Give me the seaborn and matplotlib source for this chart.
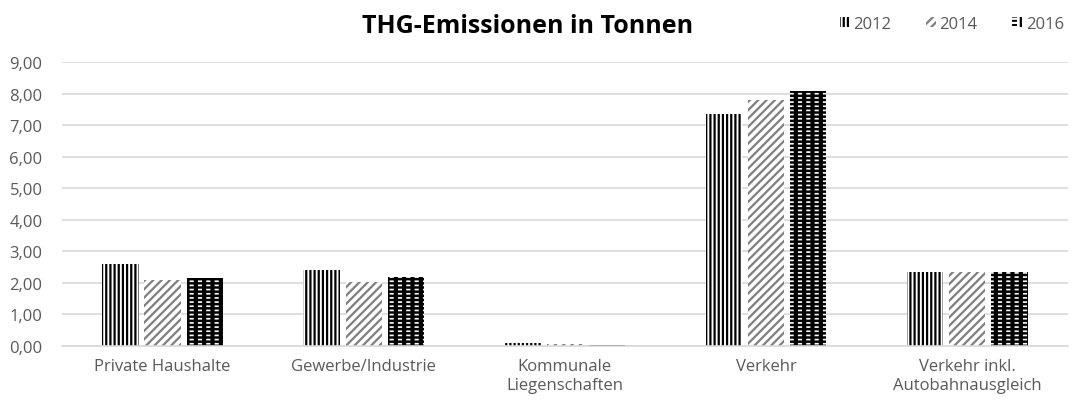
import matplotlib
matplotlib.use("Agg")
import matplotlib.pyplot as plt
import matplotlib.patches as mpatches
from matplotlib.legend_handler import HandlerTuple
import seaborn as sns
import pandas as pd

categories = ["Private Haushalte", "Gewerbe/Industrie", "Kommunale\nLiegenschaften",
              "Verkehr", "Verkehr inkl.\nAutobahnausgleich"]
years = ["2012", "2014", "2016"]
v2012 = [2.60, 2.40, 0.08, 7.34, 2.36]
v2014 = [2.09, 2.03, 0.06, 7.79, 2.36]
v2016 = [2.15, 2.20, 0.04, 8.07, 2.36]
yticks = [0, 1, 2, 3, 4, 5, 6, 7, 8, 9]

df = pd.DataFrame({
    "Kategorie": categories * 3,
    "Jahr": [y for y in years for _ in categories],
    "Wert": v2012 + v2014 + v2016,
})

sns.set_style("white")
plt.rcParams["font.family"] = ["Open Sans", "DejaVu Sans"]
plt.rcParams["hatch.linewidth"] = 1.6

styles = {
    "2012": dict(face="white", hatch_col="black", hatch="||||", lw=1.6),
    "2014": dict(face="white", hatch_col="#7f7f7f", hatch="////", lw=1.6),
    "2016": dict(face="black", hatch_col="white", hatch="----", lw=1.2),
}
overlay = dict(hatch="||", lw=3.0)  # black verticals cut the white lines into dashes


def set_hlw(p, lw):
    if hasattr(p, "set_hatch_linewidth"):
        p.set_hatch_linewidth(lw)


fig = plt.figure(figsize=(10.79, 4.02), dpi=100)
ax = fig.add_axes([0.0575, 0.137, 0.932, 0.706])

sns.barplot(data=df, x="Kategorie", y="Wert", hue="Jahr", hue_order=years,
            width=0.63, gap=0.14, ax=ax, legend=False, palette=["white"] * 3)

for cont, yr in zip(ax.containers, years):
    s = styles[yr]
    for bar in cont:
        bar.set_facecolor(s["face"])
        bar.set_edgecolor(s["hatch_col"])
        bar.set_hatch(s["hatch"])
        bar.set_linewidth(0)
        set_hlw(bar, s["lw"])
        if yr == "2016":
            r = mpatches.Rectangle(bar.get_xy(), bar.get_width(), bar.get_height(),
                                   facecolor="none", edgecolor="black", hatch=overlay["hatch"],
                                   linewidth=0, zorder=bar.get_zorder() + 0.1)
            set_hlw(r, overlay["lw"])
            ax.add_patch(r)

ax.set_ylim(0, 9)
ax.set_yticks(yticks)
ax.set_yticklabels([f"{t:.2f}".replace(".", ",") for t in yticks])
ax.yaxis.grid(True, color="#d9d9d9", linewidth=1.2)
ax.set_axisbelow(True)
for sp in ["top", "right", "left"]:
    ax.spines[sp].set_visible(False)
ax.spines["bottom"].set_color("#d9d9d9")
ax.spines["bottom"].set_linewidth(1.2)
ax.tick_params(axis="both", length=0, labelsize=12, colors="#595959")
ax.tick_params(axis="y", pad=14)
ax.tick_params(axis="x", pad=9)
ax.set_xlabel("")
ax.set_ylabel("")

fig.text(0.489, 0.935, "THG-Emissionen in Tonnen", ha="center", va="center",
         fontsize=18, fontweight="bold", color="black")

handles = []
for yr in years:
    s = styles[yr]
    p = mpatches.Patch(facecolor=s["face"], edgecolor=s["hatch_col"],
                       hatch=s["hatch"], linewidth=0)
    set_hlw(p, s["lw"])
    if yr == "2016":
        p2 = mpatches.Patch(facecolor="none", edgecolor="black", hatch=overlay["hatch"], linewidth=0)
        set_hlw(p2, overlay["lw"])
        handles.append((p, p2))
    else:
        handles.append(p)
fig.legend(handles=handles, labels=years, loc="center", bbox_to_anchor=(0.882, 0.938), ncol=3,
           frameon=False, fontsize=12, handlelength=0.6, handleheight=0.6,
           handletextpad=0.2, columnspacing=2.1, labelcolor="#595959",
           handler_map={tuple: HandlerTuple(ndivide=None, pad=0)})

fig.savefig("out.png", dpi=100)
